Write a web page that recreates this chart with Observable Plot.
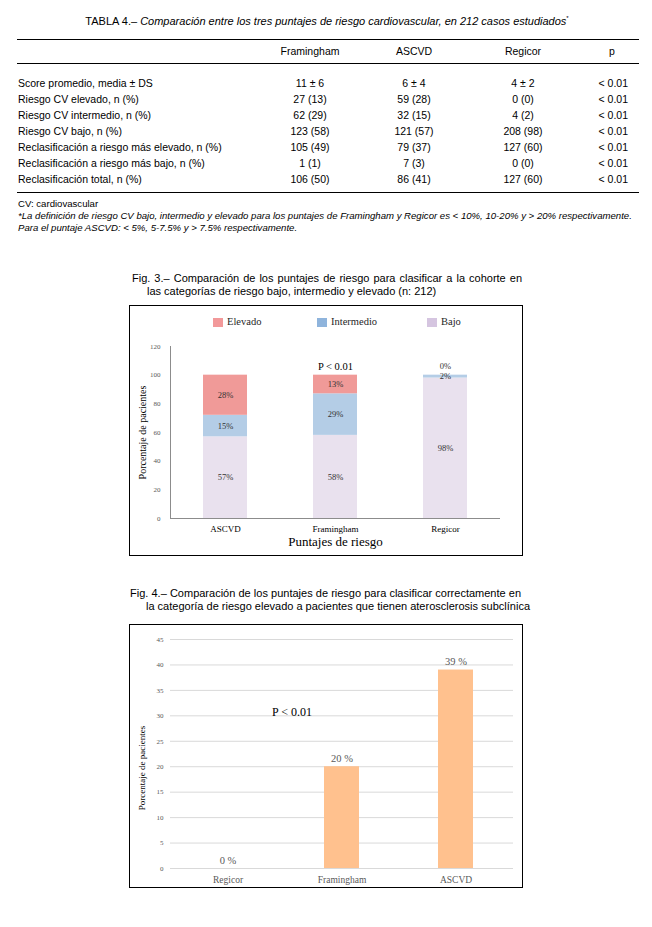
<!DOCTYPE html>
<html><head><meta charset="utf-8">
<script src="https://cdn.jsdelivr.net/npm/d3@7"></script>
<script src="https://cdn.jsdelivr.net/npm/@observablehq/plot@0.6"></script>
<style>
body{margin:0;background:#fff;}
#page{position:relative;width:652px;height:927px;font-family:"Liberation Sans",Arial,sans-serif;color:#000;overflow:hidden;}
.abs{position:absolute;white-space:nowrap;line-height:12px;}
.rule{position:absolute;height:0;border-top:1px solid #000;}
.box{position:absolute;border:1px solid #000;}
.box svg{display:block;}
</style></head>
<body><div id="page"></div>
<script>
// ---------- DATA ----------
const tableTitle = "Comparación entre los tres puntajes de riesgo cardiovascular, en 212 casos estudiados";
const tableHeaders = ["Framingham", "ASCVD", "Regicor", "p"];
const tableRows = [
  "Score promedio, media ± DS",
  "Riesgo CV elevado, n (%)",
  "Riesgo CV intermedio, n (%)",
  "Riesgo CV bajo, n (%)",
  "Reclasificación a riesgo más elevado, n (%)",
  "Reclasificación a riesgo más bajo, n (%)",
  "Reclasificación total, n (%)"
];
const framinghamCol = ["11 ± 6", "27 (13)", "62 (29)", "123 (58)", "105 (49)", "1 (1)", "106 (50)"];
const ascvdCol = ["6 ± 4", "59 (28)", "32 (15)", "121 (57)", "79 (37)", "7 (3)", "86 (41)"];
const regicorCol = ["4 ± 2", "0 (0)", "4 (2)", "208 (98)", "127 (60)", "0 (0)", "127 (60)"];
const pCol = ["< 0.01", "< 0.01", "< 0.01", "< 0.01", "< 0.01", "< 0.01", "< 0.01"];
const footnotes = [
  "CV: cardiovascular",
  "*La definición de riesgo CV bajo, intermedio y elevado para los puntajes de Framingham y Regicor es < 10%, 10-20% y > 20% respectivamente.",
  "Para el puntaje ASCVD: < 5%, 5-7.5% y > 7.5% respectivamente."
];

const fig3Caption = ["Fig. 3.– Comparación de los puntajes de riesgo para clasificar a la cohorte en",
                     "las categorías de riesgo bajo, intermedio y elevado (n: 212)"];
const fig3Scores = ["ASCVD", "Framingham", "Regicor"];
const fig3Levels = ["Elevado", "Intermedio", "Bajo"];
const fig3Elevado = [28, 13, 0];
const fig3Intermedio = [15, 29, 2];
const fig3Bajo = [57, 58, 98];
const fig3YTicks = [0, 20, 40, 60, 80, 100, 120];
const fig3Colors = ["#F09A98", "#B4CDE6", "#E9E1EE"];
const fig3LegendColors = ["#F2999A", "#8FB4DC", "#D5C5E0"];

const fig4Caption = ["Fig. 4.– Comparación de los puntajes de riesgo para clasificar correctamente en",
                     "la categoría de riesgo elevado a pacientes que tienen aterosclerosis subclínica"];
const fig4Scores = ["Regicor", "Framingham", "ASCVD"];
const fig4Values = [0, 20, 39];
const fig4YTicks = [0, 5, 10, 15, 20, 25, 30, 35, 40, 45];

// ---------- HELPERS ----------
const page = document.getElementById("page");
function addDiv(cls, style, text) {
  const d = document.createElement("div");
  d.className = cls;
  Object.assign(d.style, style);
  if (text != null) d.textContent = text;
  page.appendChild(d);
  return d;
}
const serif = "'Liberation Serif', 'DejaVu Serif', serif";

// ---------- TABLE ----------
const t = addDiv("abs", {left: "0px", width: "654px", top: "12px", textAlign: "center", fontSize: "11px"});
t.innerHTML = "TABLA 4.– <i>" + tableTitle + "</i><sup style='font-size:6px'>*</sup>";

addDiv("rule", {left: "17px", width: "622px", top: "39px"});
addDiv("rule", {left: "17px", width: "622px", top: "63px"});
addDiv("rule", {left: "17px", width: "622px", top: "192px"});

const colCenters = [310, 414, 523];
tableHeaders.slice(0, 3).forEach((h, i) => {
  addDiv("abs", {left: (colCenters[i] - 60) + "px", width: "120px", textAlign: "center", top: "45px", fontSize: "10.5px"}, h);
});
addDiv("abs", {left: (612 - 20) + "px", width: "40px", textAlign: "center", top: "45px", fontSize: "10.5px"}, tableHeaders[3]);

const cols = [framinghamCol, ascvdCol, regicorCol];
tableRows.forEach((r, j) => {
  const y = 77 + j * 16;
  addDiv("abs", {left: "18px", top: y + "px", fontSize: "10.5px"}, r);
  cols.forEach((c, i) => {
    addDiv("abs", {left: (colCenters[i] - 60) + "px", width: "120px", textAlign: "center", top: y + "px", fontSize: "10.5px"}, c[j]);
  });
  addDiv("abs", {left: "560px", width: "68px", textAlign: "right", top: y + "px", fontSize: "10.5px"}, pCol[j]);
});
addDiv("abs", {left: "18px", top: "198px", fontSize: "9.6px"}, footnotes[0]);
addDiv("abs", {left: "18px", top: "210px", fontSize: "9.6px", fontStyle: "italic"}, footnotes[1]);
addDiv("abs", {left: "18px", top: "222px", fontSize: "9.6px", fontStyle: "italic"}, footnotes[2]);

// ---------- FIG 3 ----------
addDiv("abs", {left: "132px", width: "390px", top: "272px", fontSize: "11px", textAlign: "justify", textAlignLast: "justify"}, fig3Caption[0]);
addDiv("abs", {left: "147px", top: "285px", fontSize: "11px"}, fig3Caption[1]);

const box3 = addDiv("box", {left: "129px", top: "305px", width: "392px", height: "249px"});

const rows3 = [];
fig3Scores.forEach((s, i) => {
  rows3.push({score: s, level: "Bajo", value: fig3Bajo[i]});
  rows3.push({score: s, level: "Intermedio", value: fig3Intermedio[i]});
  rows3.push({score: s, level: "Elevado", value: fig3Elevado[i]});
});
const stackOrder = ["Bajo", "Intermedio", "Elevado"];

const chart3 = Plot.plot({
  width: 392, height: 249,
  marginLeft: 40, marginRight: 22, marginTop: 40, marginBottom: 37,
  style: {fontFamily: serif, background: "transparent", overflow: "visible"},
  x: {domain: fig3Scores, paddingInner: 0.6, paddingOuter: 0.3, label: null},
  y: {domain: [0, 120], label: null},
  color: {domain: fig3Levels, range: fig3Colors},
  marks: [
    Plot.barY(rows3, Plot.stackY({x: "score", y: "value", fill: "level", order: stackOrder})),
    Plot.ruleY([0], {stroke: "#8c8c8c"}),
    Plot.frame({anchor: "left", stroke: "#8c8c8c"}),
    Plot.axisY({ticks: fig3YTicks, tickSize: 0, tickPadding: 10, fontSize: 7, fill: "#595959", label: null}),
    Plot.axisX({tickSize: 0, tickPadding: 7, fontSize: 9, fill: "#000", label: null}),
    Plot.text(rows3, Plot.stackY({x: "score", y: "value", z: "level", order: stackOrder,
      text: d => d.value > 0 ? d.value + "%" : "", fontSize: 8.5, fill: "#333"})),
    Plot.text(rows3, Plot.stackY({x: "score", y: "value", z: "level", order: stackOrder,
      text: d => d.value === 0 ? d.value + "%" : "", fontSize: 8.5, fill: "#333", dy: -9})),
    Plot.text(["P < 0.01"], {frameAnchor: "top", dy: 16, fontSize: 10.5, fill: "#000"}),
    Plot.text(["Porcentaje de pacientes"], {frameAnchor: "left", textAnchor: "middle", dx: -28, rotate: -90, fontSize: 10, fill: "#000"}),
    Plot.text(["Puntajes de riesgo"], {frameAnchor: "bottom", textAnchor: "middle", dy: 27, fontSize: 13, fill: "#000"})
  ]
});
box3.appendChild(chart3);

// legend (HTML, from the same arrays)
const legendSwatchX = [213, 317, 427];
fig3Levels.forEach((lv, i) => {
  addDiv("abs", {left: legendSwatchX[i] + "px", top: "318px", width: "10px", height: "9px", background: fig3LegendColors[i]});
  addDiv("abs", {left: (legendSwatchX[i] + 14) + "px", top: "316px", fontSize: "10.5px", fontFamily: serif, color: "#262626"}, lv);
});

// ---------- FIG 4 ----------
addDiv("abs", {left: "130px", width: "391px", top: "587px", fontSize: "11px", textAlign: "justify", textAlignLast: "justify"}, fig4Caption[0]);
addDiv("abs", {left: "146px", width: "375px", top: "600px", fontSize: "11px", textAlign: "justify", textAlignLast: "justify"}, fig4Caption[1]);

const box4 = addDiv("box", {left: "129px", top: "624px", width: "392px", height: "262px"});
const rows4 = fig4Scores.map((s, i) => ({score: s, value: fig4Values[i]}));

const chart4 = Plot.plot({
  width: 392, height: 262,
  marginLeft: 40, marginRight: 9, marginTop: 14, marginBottom: 19,
  style: {fontFamily: serif, background: "transparent", overflow: "visible"},
  x: {domain: fig4Scores, paddingInner: 0.69, paddingOuter: 0.345, label: null},
  y: {domain: [0, 45], label: null},
  marks: [
    Plot.ruleY(fig4YTicks, {stroke: "#d9d9d9"}),
    Plot.barY(rows4, {x: "score", y: "value", fill: "#FFC18E"}),
    Plot.axisY({ticks: fig4YTicks, tickSize: 0, tickPadding: 7, fontSize: 7, fill: "#595959", label: null}),
    Plot.axisX({tickSize: 0, tickPadding: 8, fontSize: 9.5, fill: "#595959", label: null}),
    Plot.text(rows4, {x: "score", y: "value", text: d => d.value + " %", dy: -8, fontSize: 10.5, fill: "#595959"}),
    Plot.text(["P < 0.01"], {frameAnchor: "top", dx: -50, dy: 68, fontSize: 12, fill: "#000"}),
    Plot.text(["Porcentaje de pacientes"], {frameAnchor: "left", textAnchor: "middle", dx: -28, dy: 14, rotate: -90, fontSize: 9, fill: "#000"})
  ]
});
box4.appendChild(chart4);
</script>
</body></html>
